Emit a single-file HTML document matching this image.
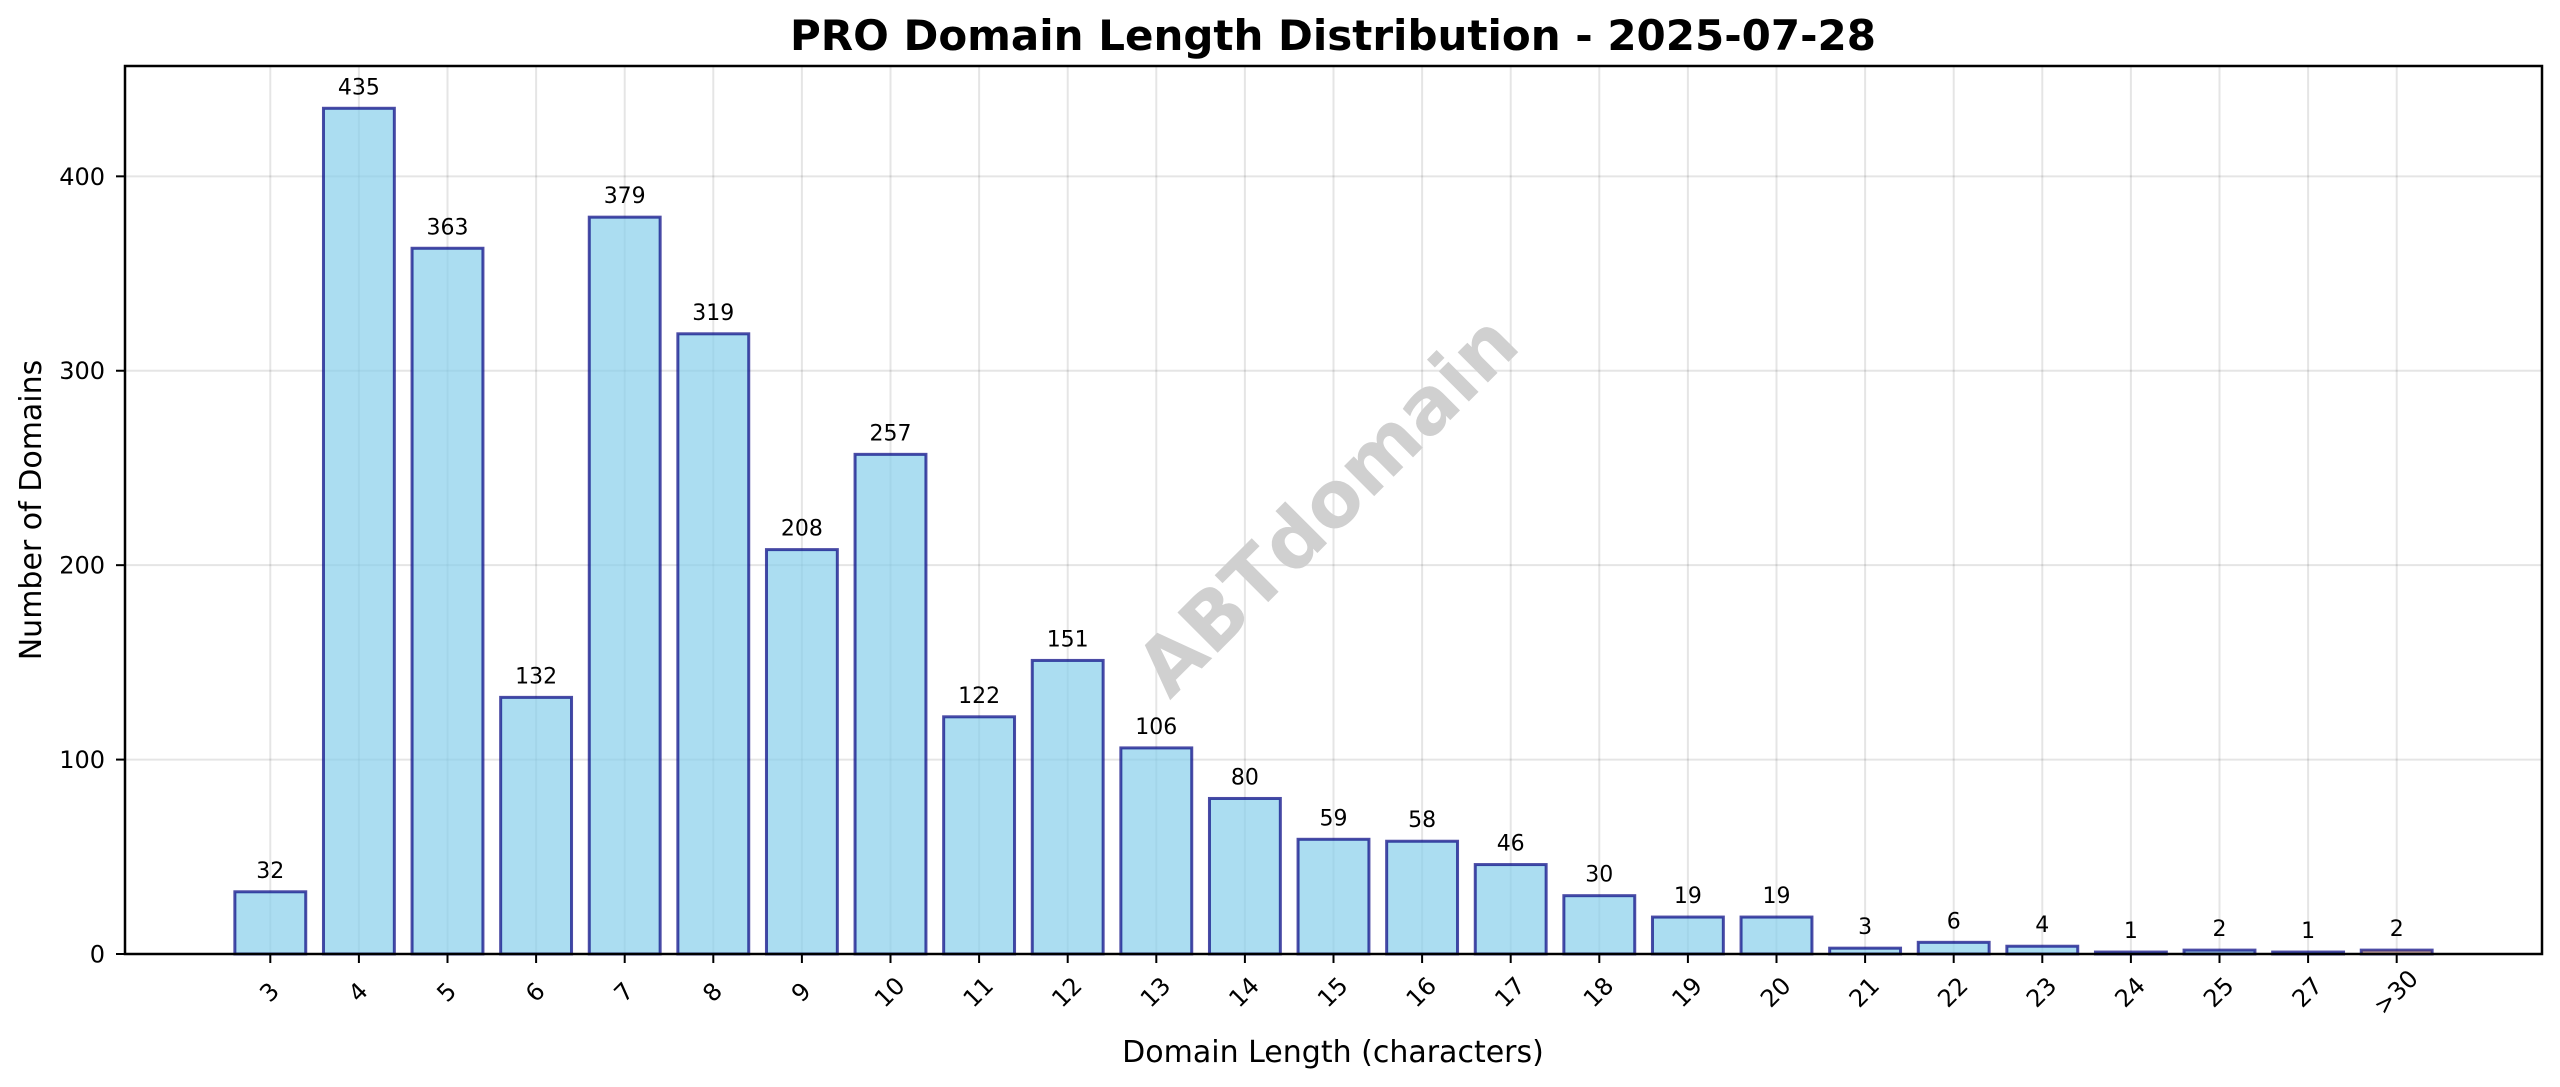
<!DOCTYPE html>
<html><head><meta charset="utf-8"><style>
html,body{margin:0;padding:0;background:#fff;}
svg{display:block;font-family:"DejaVu Sans","Liberation Sans",sans-serif;}
</style></head><body>
<svg id="chart" width="2560" height="1087" viewBox="0 0 2560 1087" xmlns="http://www.w3.org/2000/svg">
<rect width="2560" height="1087" fill="#fff"/>
<g id="grid"></g>
<text x="1331" y="509" text-anchor="middle" dominant-baseline="middle" font-size="78" font-weight="bold" fill="#d0d0d0" transform="rotate(-45 1331 509)">ABTdomain</text>
<g id="bars"></g>
<g id="labels"></g>
<g id="xaxis"></g>
<g id="yaxis"></g>
<rect x="125" y="66" width="2417" height="888" fill="none" stroke="#000" stroke-width="2.5"/>
<text x="1333" y="50" text-anchor="middle" font-size="42" font-weight="bold" fill="#000">PRO Domain Length Distribution - 2025-07-28</text>
<text x="1333" y="1062" text-anchor="middle" font-size="30" fill="#000">Domain Length (characters)</text>
<text x="0" y="0" text-anchor="middle" font-size="30" fill="#000" transform="translate(41 510) rotate(-90)">Number of Domains</text>
</svg>
<script>
const categories = ["3","4","5","6","7","8","9","10","11","12","13","14","15","16","17","18","19","20","21","22","23","24","25","27",">30"];
const counts = [32,435,363,132,379,319,208,257,122,151,106,80,59,58,46,30,19,19,3,6,4,1,2,1,2];
const yTicks = [0,100,200,300,400];

const NS = "http://www.w3.org/2000/svg";
const plotL = 125, plotR = 2542, plotT = 66, plotB = 954;
const n = categories.length;
const maxV = Math.max(...counts);
const xMin = -0.4 - 0.05*(n - 1 + 0.8), xMax = n - 1 + 0.4 + 0.05*(n - 1 + 0.8);
const yMax = maxV * 1.05;
function xs(i){ return plotL + (i - xMin) / (xMax - xMin) * (plotR - plotL); }
function ys(v){ return plotB - v / yMax * (plotB - plotT); }
function mk(tag, attrs, parent){ const e = document.createElementNS(NS, tag); for (const k in attrs) e.setAttribute(k, attrs[k]); parent.appendChild(e); return e; }
const step = xs(1) - xs(0);
const gridG = document.getElementById('grid');
const barsG = document.getElementById('bars');
const labelsG = document.getElementById('labels');
const xaxisG = document.getElementById('xaxis');
const yaxisG = document.getElementById('yaxis');

categories.forEach((c, i) => {
  const x = xs(i);
  const gl = mk('line', {x1:x, x2:x, y1:plotT, y2:plotB, stroke:'#000', 'stroke-opacity':0.1, 'stroke-width':2}, gridG);
  
  
  const w = step * 0.8;
  const yt = ys(counts[i]);
  const last = i === n - 1;
  const r = mk('rect', {x:x - w/2, y:yt, width:w, height:plotB - yt, fill: last ? '#f2b36b' : '#87ceeb', 'fill-opacity':0.7, stroke:'#000080', 'stroke-opacity':0.7, 'stroke-width':3}, barsG);
  
  
  const t = mk('text', {x:x, y:yt - 14, 'text-anchor':'middle', 'font-size':22, fill:'#000'}, labelsG);
  t.textContent = counts[i];
  
  
  const tk = mk('line', {x1:x, x2:x, y1:plotB, y2:plotB + 9, stroke:'#000', 'stroke-width':2}, xaxisG);
  
  
  const tl = mk('text', {x:0, y:0, 'text-anchor':'middle', 'dominant-baseline':'middle', 'font-size':24, fill:'#000', transform:'translate(' + x + ' 993) rotate(-45)'}, xaxisG);
  tl.textContent = c;
  
  
});
yTicks.forEach(v => {
  const y = ys(v);
  const gl = mk('line', {x1:plotL, x2:plotR, y1:y, y2:y, stroke:'#000', 'stroke-opacity':0.1, 'stroke-width':2}, gridG);
  
  
  const tk = mk('line', {x1:plotL - 9, x2:plotL, y1:y, y2:y, stroke:'#000', 'stroke-width':2}, yaxisG);
  
  
  const tl = mk('text', {x:plotL - 20, y:y + 8.5, 'text-anchor':'end', 'font-size':24, fill:'#000'}, yaxisG);
  tl.textContent = v;
  
  
});
</script>
</body></html>
